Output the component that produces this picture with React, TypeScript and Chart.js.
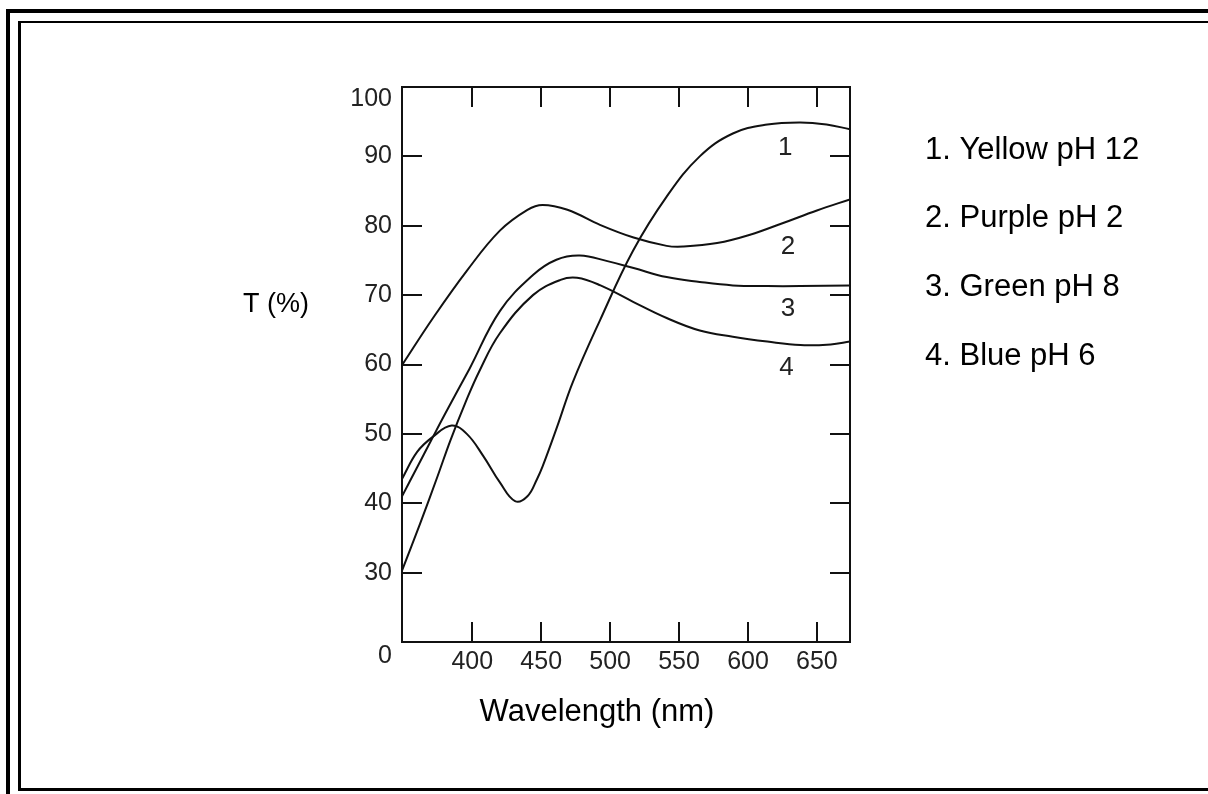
import React, { useEffect, useRef } from "react";
import { Chart, registerables } from "chart.js";

Chart.register(...registerables);

// ---- data ----
const curve1Nm = [349, 360, 371.5, 385, 396, 408, 420, 431, 440, 447, 451, 461.5, 473, 492.7, 516.6, 541, 565, 589, 614, 638, 657, 674];
const curve1T = [43.5, 47.4, 49.6, 51.2, 50.0, 46.8, 43.0, 40.3, 41.0, 43.5, 45.3, 51.0, 57.5, 66.4, 76.4, 84.2, 90.0, 93.3, 94.6, 94.9, 94.6, 93.9];

const curve2Nm = [349, 371.5, 396, 420, 440, 451, 469, 493, 517, 541, 553, 577.6, 601.5, 625.5, 650, 674];
const curve2T = [59.9, 66.7, 73.5, 79.3, 82.3, 83.0, 82.3, 80.1, 78.3, 77.1, 77.0, 77.5, 78.7, 80.4, 82.2, 83.8];

const curve3Nm = [349, 360, 370, 380, 398, 420, 444, 461, 478, 498, 517, 541, 565, 589, 614, 638, 674];
const curve3T = [41, 45.2, 49.0, 52.8, 59.4, 67.7, 72.9, 75.1, 75.7, 74.9, 73.9, 72.6, 71.9, 71.4, 71.3, 71.3, 71.4];

const curve4Nm = [349, 362, 375, 384, 395, 405, 420, 444, 464, 476, 493, 517, 541, 565, 589, 614, 638, 660, 674];
const curve4T = [30.3, 37, 44, 49, 54.5, 59, 64.5, 70.0, 72.2, 72.5, 71.4, 69.0, 66.7, 64.9, 64.0, 63.3, 62.8, 62.9, 63.3];

const curveLabels = ["1", "2", "3", "4"];
const curveLabelNm = [627, 629, 629, 628];
const curveLabelT = [91.3, 77.0, 68.0, 59.5];

const legendLines = ["1. Yellow pH 12", "2. Purple pH 2", "3. Green pH 8", "4. Blue pH 6"];

const xTicks = [400, 450, 500, 550, 600, 650];
const yTicks = [20, 30, 40, 50, 60, 70, 80, 90, 100];
const yTickLabels = ["0", "30", "40", "50", "60", "70", "80", "90", "100"];
const innerYTicks = [30, 40, 50, 60, 70, 80, 90];

const X_MIN = 349;
const X_MAX = 674;
const Y_MIN = 20;
const Y_MAX = 100;

const FONT = "'Liberation Sans', Arial, Helvetica, sans-serif";

const toPoints = (xs: number[], ys: number[]) => xs.map((x, i) => ({ x, y: ys[i] }));

const decorPlugin = {
  id: "decor",
  beforeDraw(chart: any) {
    const ctx = chart.ctx;
    ctx.save();
    ctx.fillStyle = "#ffffff";
    ctx.fillRect(0, 0, chart.width, chart.height);
    ctx.fillStyle = "#000000";
    // outer thick frame (left + top)
    ctx.fillRect(6, 9, 4, chart.height - 9);
    ctx.fillRect(6, 9, chart.width - 6, 4);
    // inner frame (left, top, bottom)
    ctx.fillRect(18, 21, 3, 769);
    ctx.fillRect(18, 21, chart.width - 18, 2);
    ctx.fillRect(18, 788, chart.width - 18, 3);
    ctx.restore();
  },
  afterDraw(chart: any) {
    const ctx = chart.ctx;
    const { left, right, top, bottom } = chart.chartArea;
    const xs = chart.scales.x;
    const ys = chart.scales.y;
    ctx.save();
    ctx.strokeStyle = "#111";
    ctx.lineWidth = 2;
    ctx.strokeRect(left, top, right - left, bottom - top);
    const tl = 20;
    ctx.beginPath();
    for (const v of xTicks) {
      const px = Math.round(xs.getPixelForValue(v));
      ctx.moveTo(px, top);
      ctx.lineTo(px, top + tl);
      ctx.moveTo(px, bottom);
      ctx.lineTo(px, bottom - tl);
    }
    for (const v of innerYTicks) {
      const py = Math.round(ys.getPixelForValue(v));
      ctx.moveTo(left, py);
      ctx.lineTo(left + tl, py);
      ctx.moveTo(right, py);
      ctx.lineTo(right - tl, py);
    }
    ctx.stroke();

    // curve number labels
    ctx.fillStyle = "#222";
    ctx.font = `26px ${FONT}`;
    ctx.textAlign = "center";
    ctx.textBaseline = "middle";
    curveLabels.forEach((t, i) => {
      ctx.fillText(t, xs.getPixelForValue(curveLabelNm[i]), ys.getPixelForValue(curveLabelT[i]));
    });

    // legend text
    ctx.fillStyle = "#000";
    ctx.font = `31px ${FONT}`;
    ctx.textAlign = "left";
    legendLines.forEach((t, i) => {
      ctx.fillText(t, 925, 150 + i * 68.7);
    });

    // axis titles
    ctx.font = `27px ${FONT}`;
    ctx.textAlign = "center";
    ctx.fillText("T (%)", 276, 305);
    ctx.font = `31px ${FONT}`;
    ctx.fillText("Wavelength (nm)", 597, 712);
    ctx.restore();
  },
};

export default function App() {
  const ref = useRef<HTMLCanvasElement>(null);
  useEffect(() => {
    if (!ref.current) return;
    const lineStyle = {
      borderColor: "#111",
      borderWidth: 2,
      pointRadius: 0,
      fill: false,
      showLine: true,
      tension: 0.4,
    };
    const chart = new Chart(ref.current, {
      type: "line",
      data: {
        datasets: [
          { label: "1. Yellow pH 12", data: toPoints(curve1Nm, curve1T), ...lineStyle },
          { label: "2. Purple pH 2", data: toPoints(curve2Nm, curve2T), ...lineStyle },
          { label: "3. Green pH 8", data: toPoints(curve3Nm, curve3T), ...lineStyle },
          { label: "4. Blue pH 6", data: toPoints(curve4Nm, curve4T), ...lineStyle },
        ],
      },
      options: {
        animation: false,
        responsive: false,
        maintainAspectRatio: false,
        devicePixelRatio: 1,
        layout: { padding: { left: 0, right: 358, top: 87, bottom: 92 } },
        plugins: { legend: { display: false }, tooltip: { enabled: false }, title: { display: false } },
        scales: {
          x: {
            type: "linear",
            min: X_MIN,
            max: X_MAX,
            afterBuildTicks: (s: any) => {
              s.ticks = xTicks.map((v) => ({ value: v }));
            },
            afterFit: (s: any) => {
              s.height = 60;
            },
            grid: { display: false, drawTicks: false },
            border: { display: false },
            ticks: {
              autoSkip: false,
              maxRotation: 0,
              padding: 5,
              color: "#222",
              font: { size: 25, family: FONT },
              callback: (v: any) => String(v),
            },
          },
          y: {
            type: "linear",
            min: Y_MIN,
            max: Y_MAX,
            afterBuildTicks: (s: any) => {
              s.ticks = yTicks.map((v) => ({ value: v }));
            },
            afterFit: (s: any) => {
              s.width = 402;
            },
            grid: { display: false, drawTicks: false },
            border: { display: false },
            ticks: {
              autoSkip: false,
              padding: 10,
              color: "#222",
              font: (c: any) => ({
                size: 25,
                family: FONT,
                lineHeight: c.tick && c.tick.value === 100 ? 0.95 : 1.15,
              }),
              callback: (v: any) => {
                const idx = yTicks.indexOf(Number(v));
                const lab = idx >= 0 ? yTickLabels[idx] : String(v);
                return v === 100 || v === 20 ? ["", lab] : lab;
              },
            },
          },
        },
      },
      plugins: [decorPlugin],
    });
    return () => chart.destroy();
  }, []);
  return (
    <div style={{ position: "absolute", left: 0, top: 0, width: 1208, height: 794, background: "#fff" }}>
      <canvas ref={ref} width={1208} height={794} style={{ display: "block", width: 1208, height: 794 }} />
    </div>
  );
}
